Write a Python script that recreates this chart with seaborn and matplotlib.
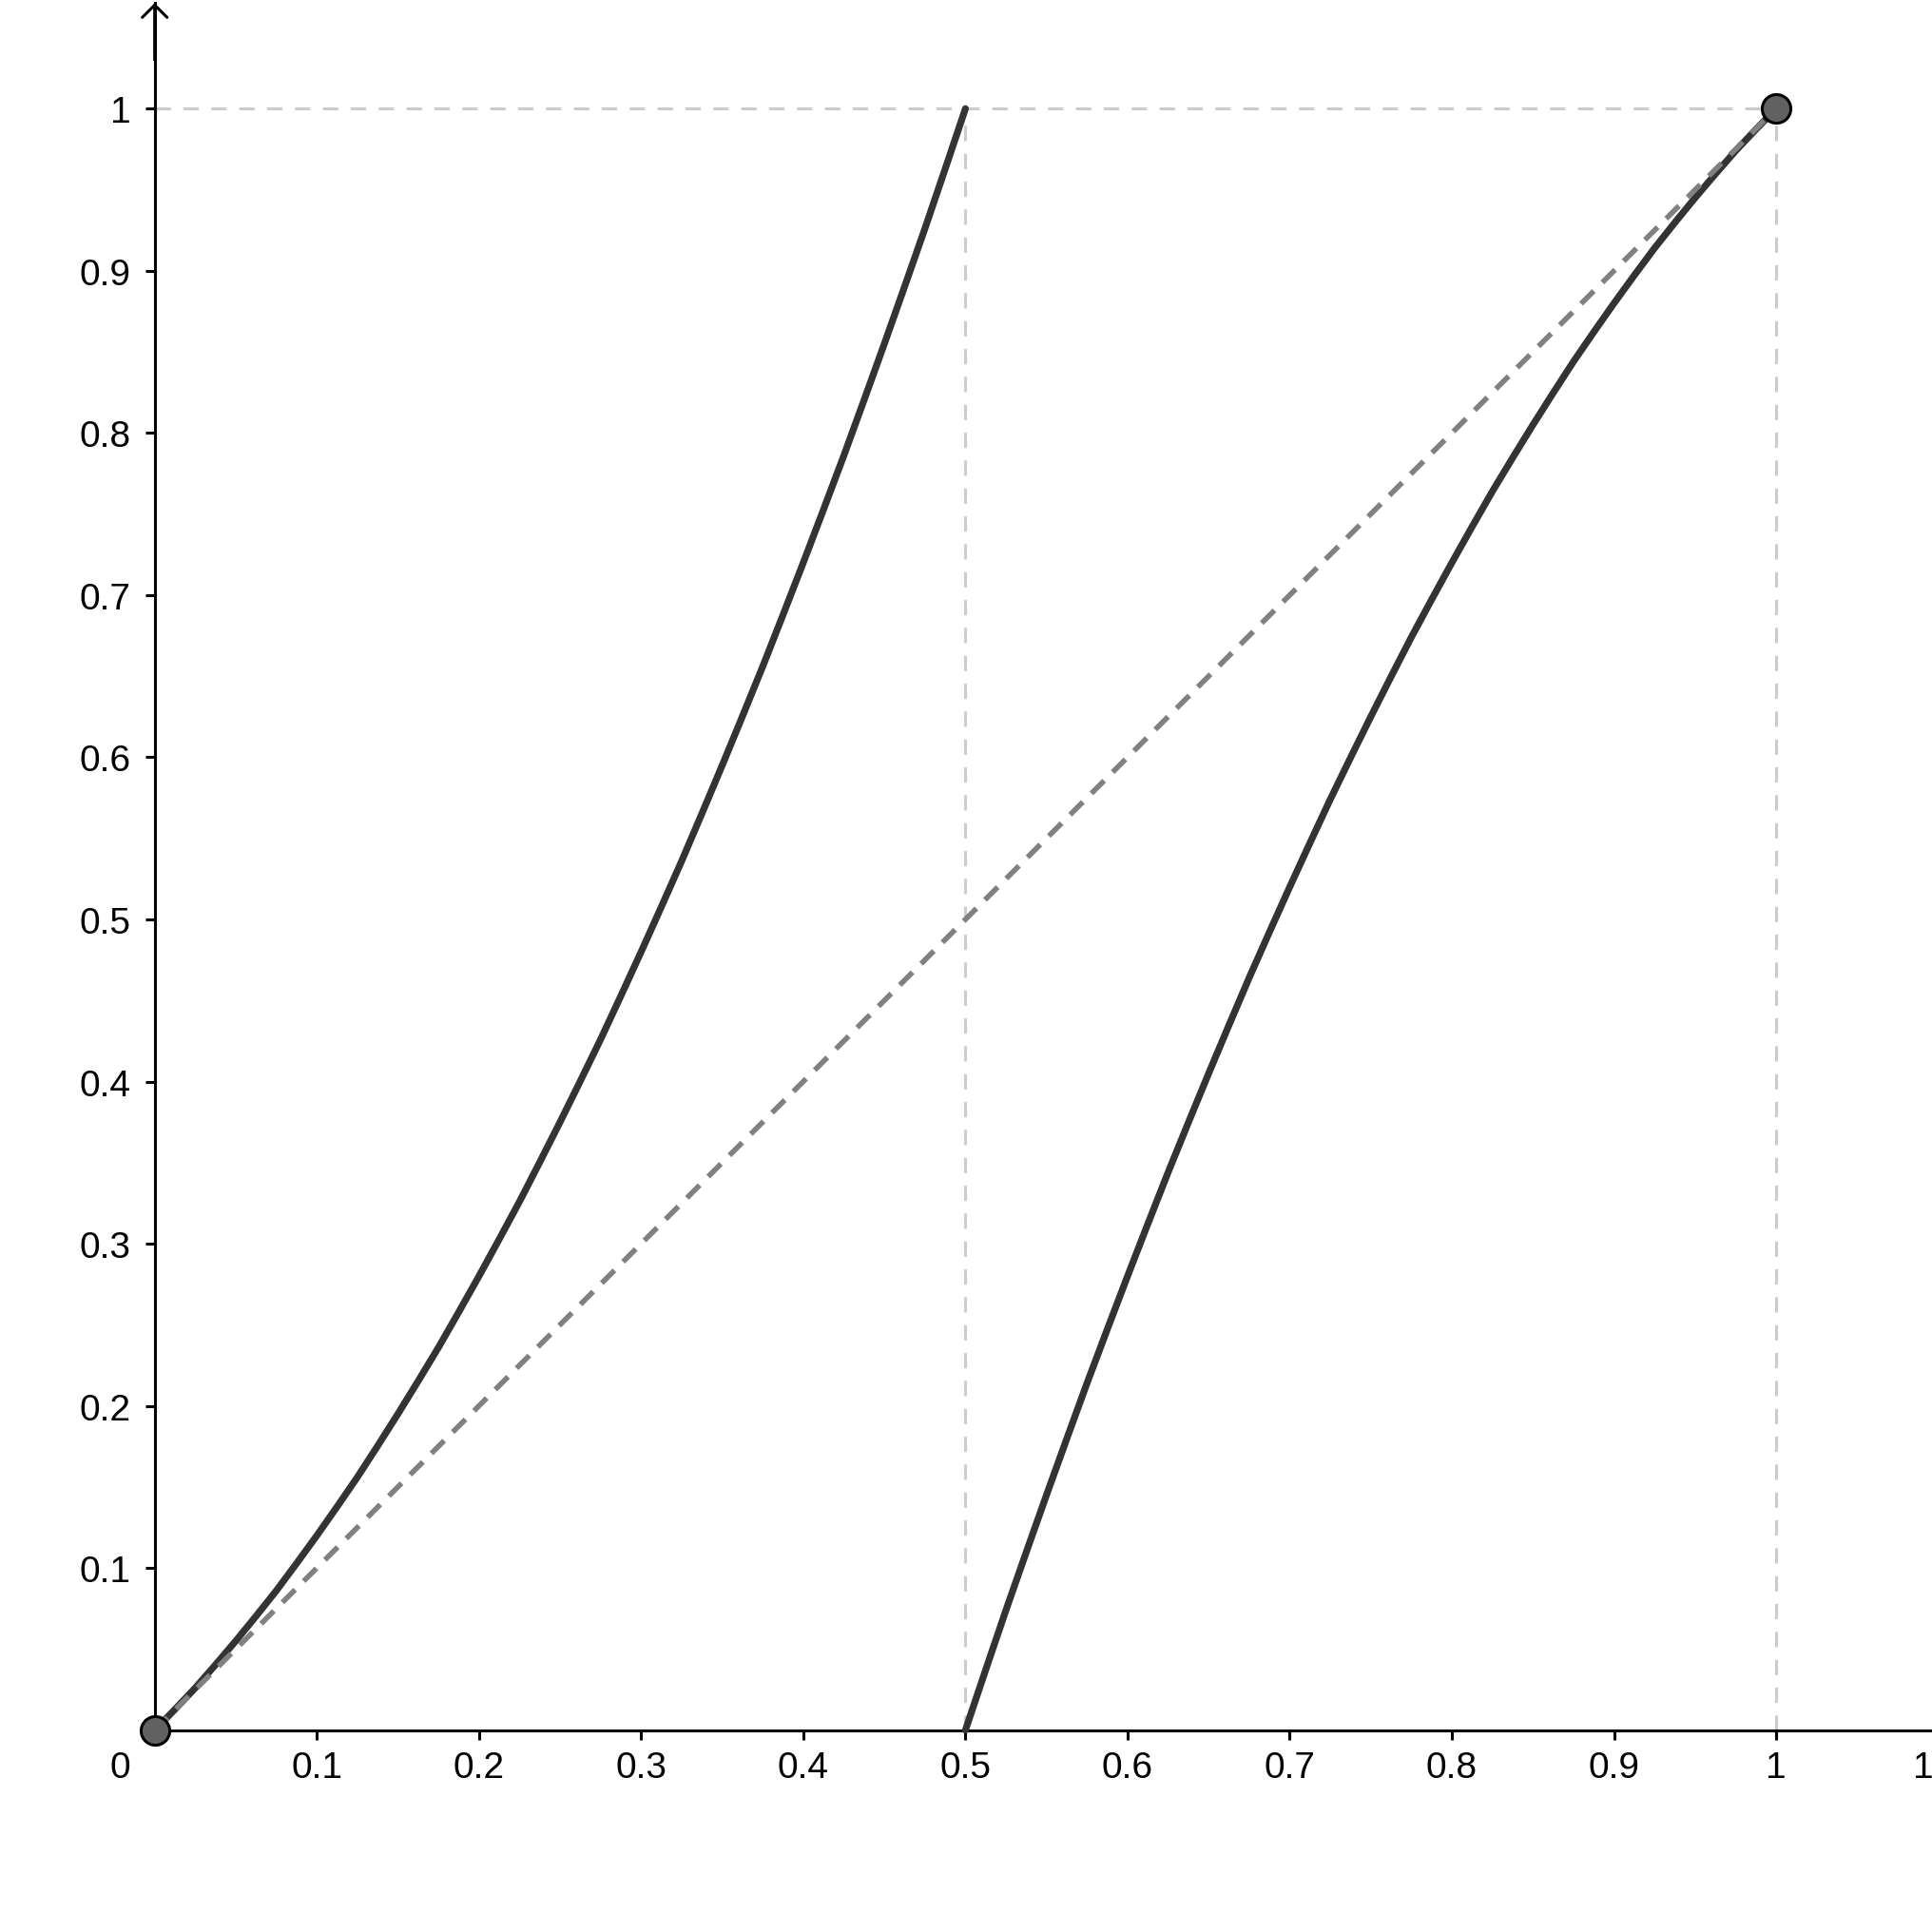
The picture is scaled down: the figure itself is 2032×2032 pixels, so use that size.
import matplotlib
matplotlib.use("Agg")
import matplotlib.pyplot as plt
import seaborn as sns

#--------------------------------------------------------------
# 1. Values
#--------------------------------------------------------------
left_x = [0.0, 0.0125, 0.025, 0.0375, 0.05, 0.0625, 0.075, 0.0875, 0.1, 0.1125,
          0.125, 0.1375, 0.15, 0.1625, 0.175, 0.1875, 0.2, 0.2125, 0.225, 0.2375,
          0.25, 0.2625, 0.275, 0.2875, 0.3, 0.3125, 0.325, 0.3375, 0.35, 0.3625,
          0.375, 0.3875, 0.4, 0.4125, 0.425, 0.4375, 0.45, 0.4625, 0.475, 0.4875, 0.5]
left_y = [0.0, 0.0128, 0.026, 0.0403, 0.055, 0.0703, 0.086, 0.1028, 0.12, 0.1378,
          0.156, 0.1753, 0.195, 0.2153, 0.236, 0.2578, 0.28, 0.3028, 0.326, 0.3503,
          0.375, 0.4003, 0.426, 0.4528, 0.48, 0.5078, 0.536, 0.5653, 0.595, 0.6253,
          0.656, 0.6878, 0.72, 0.7528, 0.786, 0.8203, 0.855, 0.8903, 0.926, 0.9628, 1.0]

right_x = [0.5, 0.5125, 0.525, 0.5375, 0.55, 0.5625, 0.575, 0.5875, 0.6, 0.6125,
           0.625, 0.6375, 0.65, 0.6625, 0.675, 0.6875, 0.7, 0.7125, 0.725, 0.7375,
           0.75, 0.7625, 0.775, 0.7875, 0.8, 0.8125, 0.825, 0.8375, 0.85, 0.8625,
           0.875, 0.8875, 0.9, 0.9125, 0.925, 0.9375, 0.95, 0.9625, 0.975, 0.9875, 1.0]
right_y = [0.0, 0.0372, 0.074, 0.1097, 0.145, 0.1797, 0.214, 0.2472, 0.28, 0.3122,
           0.344, 0.3747, 0.405, 0.4347, 0.464, 0.4922, 0.52, 0.5472, 0.574, 0.5997,
           0.625, 0.6497, 0.674, 0.6972, 0.72, 0.7422, 0.764, 0.7847, 0.805, 0.8247,
           0.844, 0.8622, 0.88, 0.8972, 0.914, 0.9297, 0.945, 0.9597, 0.974, 0.9872, 1.0]

diag_x = [0.0, 1.0]
diag_y = [0.0, 1.0]

point_x = [0.0, 1.0]
point_y = [0.0, 1.0]

tick_vals = [0.1, 0.2, 0.3, 0.4, 0.5, 0.6, 0.7, 0.8, 0.9, 1.0]
tick_labels = ['0.1', '0.2', '0.3', '0.4', '0.5', '0.6', '0.7', '0.8', '0.9', '1']

#--------------------------------------------------------------
# 2. Style
#--------------------------------------------------------------
sns.set_theme(style="white")
plt.rcParams['font.family'] = ['Liberation Sans', 'DejaVu Sans']

fig = plt.figure(figsize=(20.33, 20.33), dpi=100)
ax = fig.add_axes([0, 0, 1, 1])
ax.set_xlim(-0.0954, 1.0967)
ax.set_ylim(-0.1245, 1.0676)

#--------------------------------------------------------------
# 3. Guide lines (light dashed)
#--------------------------------------------------------------
guide = dict(color='#cccccc', lw=2.2, dashes=(5.3, 4.3), zorder=1)
ax.plot([left_x[0], right_x[-1]], [left_y[-1], right_y[-1]], **guide)
ax.plot([left_x[-1], left_x[-1]], [right_y[0], left_y[-1]], **guide)
ax.plot([right_x[-1], right_x[-1]], [right_y[0], right_y[-1]], **guide)

#--------------------------------------------------------------
# 4. Curves, diagonal and points
#--------------------------------------------------------------
sns.lineplot(x=left_x, y=left_y, ax=ax, color='#333333', lw=5.2, zorder=3)
sns.lineplot(x=right_x, y=right_y, ax=ax, color='#333333', lw=5.2, zorder=3)
sns.lineplot(x=diag_x, y=diag_y, ax=ax, color='#808080', lw=4.0,
             dashes=False, zorder=4).lines[-1].set_dashes((3.4, 2.3))

sns.scatterplot(x=point_x, y=point_y, ax=ax, s=470, color='#616161',
                edgecolor='black', linewidth=2.2, zorder=6, clip_on=False)

#--------------------------------------------------------------
# 5. Axes through the origin
#--------------------------------------------------------------
for side in ['top', 'right']:
    ax.spines[side].set_visible(False)
ax.spines['left'].set_position(('data', 0))
ax.spines['bottom'].set_position(('data', 0))
ax.spines['left'].set_bounds(0, 1.0652)
ax.spines['bottom'].set_bounds(0, 1.0967)
for side in ['left', 'bottom']:
    ax.spines[side].set_linewidth(2.2)
    ax.spines[side].set_color('black')
    ax.spines[side].set_zorder(2)

ax.annotate('', xy=(0, 1.0652), xytext=(0, 1.03),
            arrowprops=dict(arrowstyle='->,head_length=0.47,head_width=0.47',
                            mutation_scale=20, lw=2.2, color='black',
                            shrinkA=0, shrinkB=0))

ax.set_xticks(tick_vals, tick_labels)
ax.set_yticks(tick_vals, tick_labels)
ax.tick_params(axis='both', direction='out', length=7.2, width=2.2,
               color='black', labelsize=28, labelcolor='black')
ax.tick_params(axis='x', bottom=True, pad=8)
ax.tick_params(axis='y', left=True, pad=11)
ax.grid(False)

# "0" at the origin and the clipped "1.1" at the right edge
for xv, txt in [(-0.0215, '0'), (1.1, '1.1')]:
    ax.annotate(txt, xy=(xv, 0), xytext=(0, -15.2), textcoords='offset points',
                ha='center', va='top', fontsize=28, color='black',
                annotation_clip=False)

ax.set_xlabel('')
ax.set_ylabel('')

plt.savefig('out.png', dpi=100)
